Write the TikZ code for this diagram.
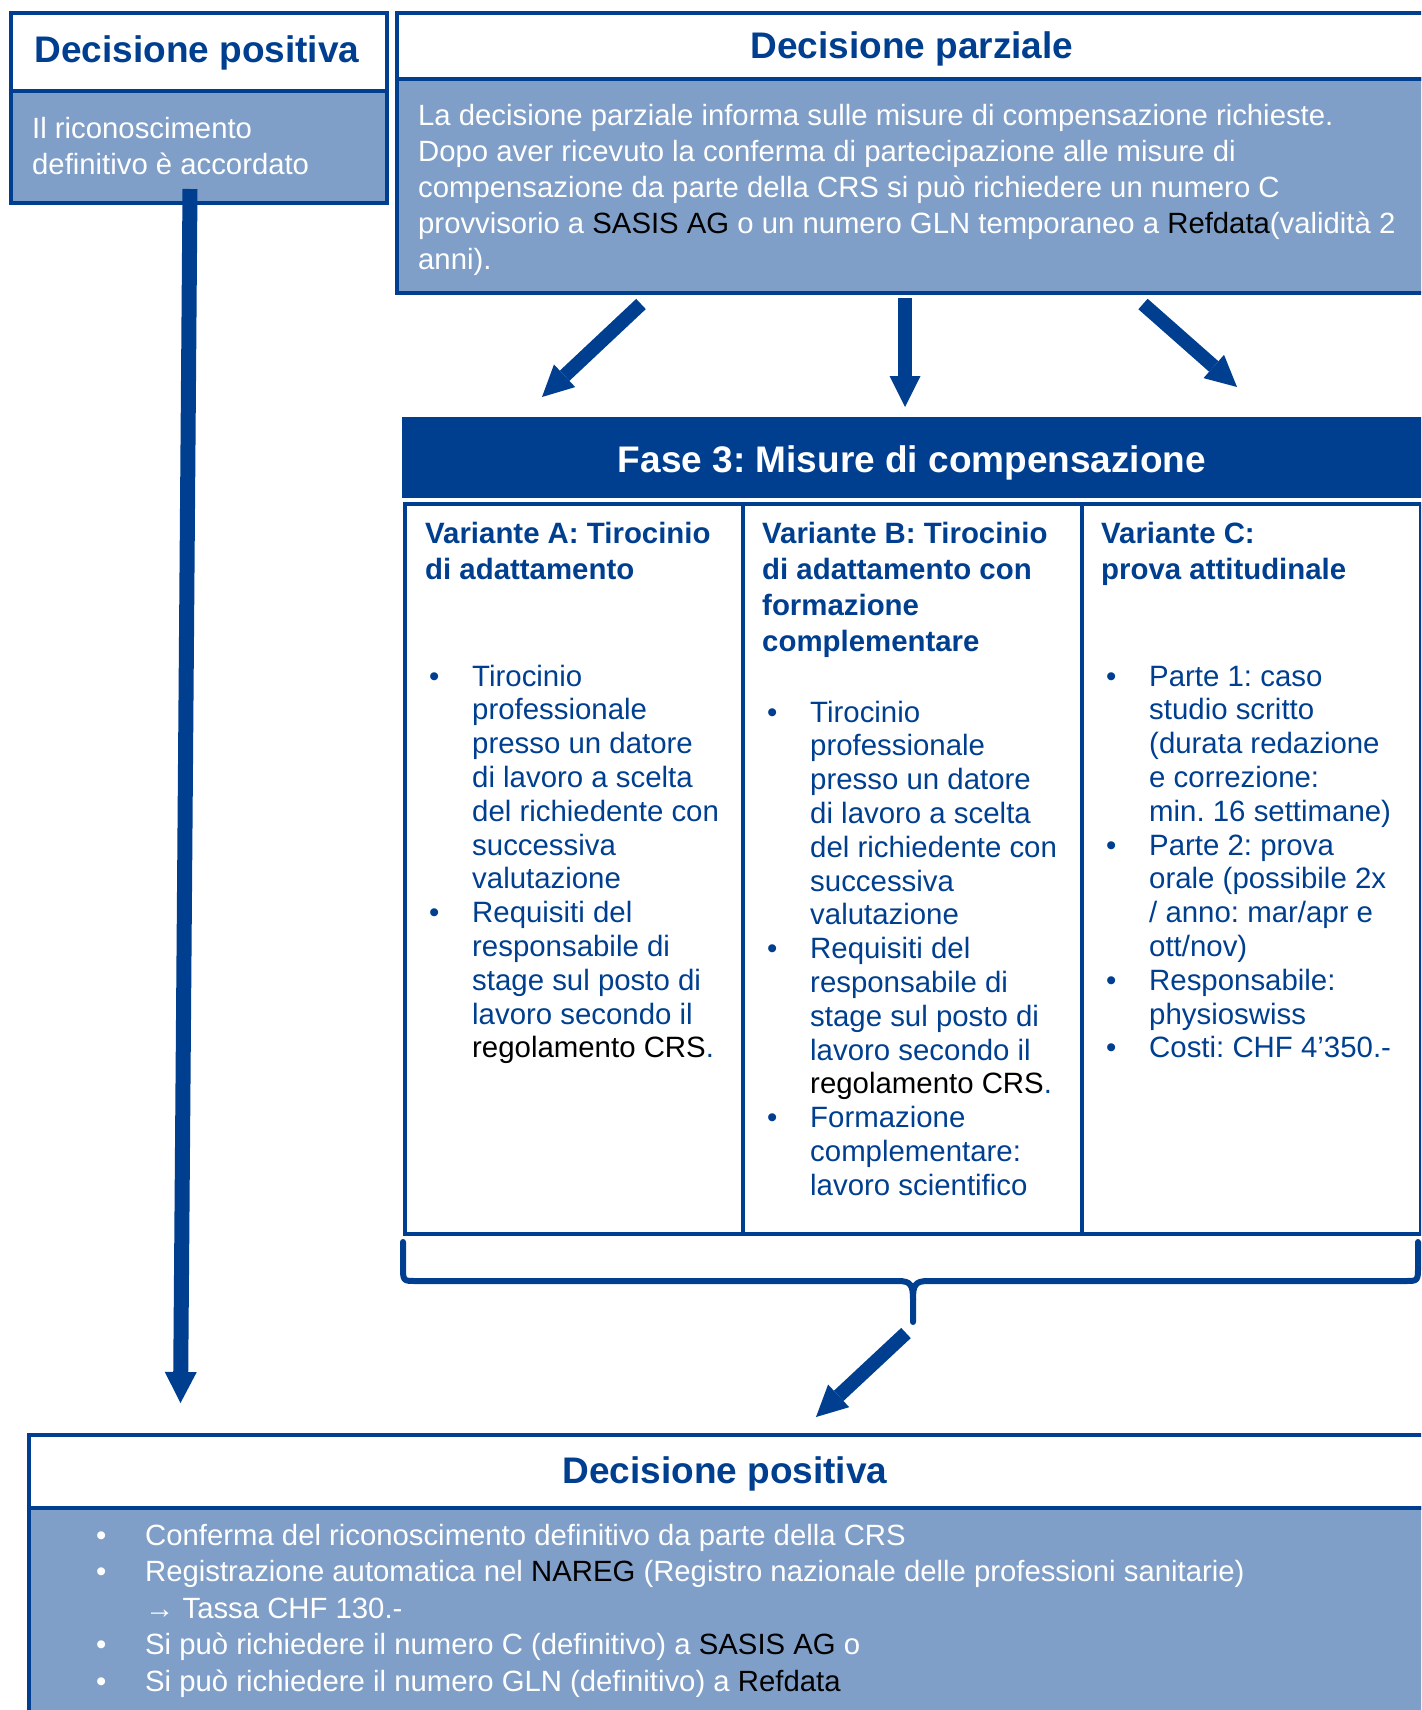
\documentclass[tikz,border=0pt]{standalone}
\usepackage{fontspec}
\setmainfont{Liberation Sans}
\usetikzlibrary{arrows.meta}
\definecolor{dblue}{RGB}{0,63,143}
\definecolor{lblue}{RGB}{127,159,200}
\newcommand\bu{\makebox[43pt][l]{•}}
\newcommand\ii{\hspace*{43pt}}
\newcommand\bub{\makebox[49pt][l]{•}}
\newcommand\iib{\hspace*{49pt}}
\newcommand\blk[1]{\textcolor{black}{#1}}
\frenchspacing
\begin{document}
\begin{tikzpicture}[x=1pt,y=-1pt,
  frame/.style={draw=dblue, line width=4pt, inner sep=0pt, anchor=north west},
  whitebox/.style={frame, fill=white},
  fillbox/.style={frame, fill=lblue},
  colbox/.style={draw=dblue, line width=3.5pt, inner sep=0pt, anchor=north west, minimum height=730pt},
  ttl/.style={font=\fontsize{37}{44}\selectfont\bfseries, text=dblue, anchor=base, inner sep=0pt},
  wtxt/.style={font=\fontsize{29.3}{36}\selectfont, text=white, anchor=base west, inner sep=0pt},
  ctxt/.style={font=\fontsize{29.4}{33.8}\selectfont, text=dblue, anchor=base west, inner sep=0pt},
  chead/.style={font=\fontsize{29.4}{36}\selectfont\bfseries, text=dblue, anchor=base west, inner sep=0pt},
  blockarrow/.style={draw=dblue, line width=14pt, -{Triangle[width=31pt,length=31pt,line width=0pt]}},
  bracepath/.style={draw=dblue, line width=6pt, line cap=round, line join=round}
]
\clip (0,0) rectangle (1421,1710);

% ---------- top left: Decisione positiva ----------
\node[whitebox, minimum width=376pt, minimum height=78pt] (posHead) at (9,11) {};
\node[fillbox, minimum width=376pt, minimum height=112pt] (posBody) at (9,89) {};
\node[ttl] (posTitle) at (197,63) {Decisione positiva};
\node[wtxt, font=\fontsize{29.3}{36.5}\selectfont] (posText) at (32,138)
  {\begin{tabular}[t]{@{}l@{}}Il riconoscimento\\definitivo è accordato\end{tabular}};

% ---------- top right: Decisione parziale ----------
\node[whitebox, minimum width=1040pt, minimum height=66pt] (parHead) at (395,11) {};
\node[fillbox, minimum width=1040pt, minimum height=214pt] (parBody) at (395,77) {};
\node[ttl] (parTitle) at (912,59) {Decisione parziale};
\node[wtxt] (parText) at (418,125)
  {\begin{tabular}[t]{@{}l@{}}La decisione parziale informa sulle misure di compensazione richieste.\\
   Dopo aver ricevuto la conferma di partecipazione alle misure di\\
   compensazione da parte della CRS si può richiedere un numero C\\
   provvisorio a \blk{SASIS AG} o un numero GLN temporaneo a \blk{Refdata}(validità 2\\
   anni).\end{tabular}};

% ---------- arrows from Decisione parziale ----------
\coordinate (a1s) at (641,304); \coordinate (a1e) at (542,397);
\coordinate (a2s) at (905,298); \coordinate (a2e) at (905,407);
\coordinate (a3s) at (1143,304); \coordinate (a3e) at (1237,387);
\draw[blockarrow] (a1s) -- (a1e);
\draw[blockarrow] (a2s) -- (a2e);
\draw[blockarrow] (a3s) -- (a3e);

% ---------- Fase 3 banner ----------
\node[fill=dblue, inner sep=0pt, anchor=north west, minimum width=1030pt, minimum height=81pt] (fase) at (402,417) {};
\node[ttl, text=white] (faseTitle) at (912,472) {Fase 3: Misure di compensazione};

% ---------- columns ----------
\node[colbox, minimum width=338pt] (colA) at (403,502) {};
\node[colbox, minimum width=339pt] (colB) at (741,502) {};
\node[colbox, minimum width=339pt] (colC) at (1080,502) {};

\node[chead] (hA) at (425,543)
  {\begin{tabular}[t]{@{}l@{}}Variante A: Tirocinio\\di adattamento\end{tabular}};
\node[chead] (hB) at (762,543)
  {\begin{tabular}[t]{@{}l@{}}Variante B: Tirocinio\\di adattamento con\\formazione\\complementare\end{tabular}};
\node[chead] (hC) at (1101,543)
  {\begin{tabular}[t]{@{}l@{}}Variante C:\\prova attitudinale\end{tabular}};

\node[ctxt] (lA) at (429,686)
  {\begin{tabular}[t]{@{}l@{}}\bu Tirocinio\\ \ii professionale\\ \ii presso un datore\\ \ii di lavoro a scelta\\
   \ii del richiedente con\\ \ii successiva\\ \ii valutazione\\ \bu Requisiti del\\ \ii responsabile di\\
   \ii stage sul posto di\\ \ii lavoro secondo il\\ \ii \blk{regolamento CRS}.\end{tabular}};
\node[ctxt] (lB) at (767,722)
  {\begin{tabular}[t]{@{}l@{}}\bu Tirocinio\\ \ii professionale\\ \ii presso un datore\\ \ii di lavoro a scelta\\
   \ii del richiedente con\\ \ii successiva\\ \ii valutazione\\ \bu Requisiti del\\ \ii responsabile di\\
   \ii stage sul posto di\\ \ii lavoro secondo il\\ \ii \blk{regolamento CRS}.\\ \bu Formazione\\
   \ii complementare:\\ \ii lavoro scientifico\end{tabular}};
\node[ctxt] (lC) at (1106,686)
  {\begin{tabular}[t]{@{}l@{}}\bu Parte 1: caso\\ \ii studio scritto\\ \ii (durata redazione\\ \ii e correzione:\\
   \ii min. 16 settimane)\\ \bu Parte 2: prova\\ \ii orale (possibile 2x\\ \ii / anno: mar/apr e\\
   \ii ott/nov)\\ \bu Responsabile:\\ \ii physioswiss\\ \bu Costi: CHF 4'350.-\end{tabular}};

% ---------- brace ----------
\coordinate (braceL) at (403,1242);
\coordinate (braceR) at (1418,1242);
\coordinate (braceTip) at (913,1322);
\draw[bracepath] (braceL) -- (403,1266) .. controls (403,1281) .. (416,1281) -- (898,1281)
  .. controls (911,1281) and (913,1285) .. (913,1300) -- (braceTip);
\draw[bracepath] (braceR) -- (1418,1266) .. controls (1418,1281) .. (1405,1281) -- (928,1281)
  .. controls (915,1281) and (913,1285) .. (913,1300);

% ---------- bottom: Decisione positiva ----------
\node[whitebox, minimum width=1396pt, minimum height=73pt] (botHead) at (27,1433) {};
\node[fillbox, minimum width=1396pt, minimum height=260pt] (botBody) at (27,1506) {};
\node[ttl] (botTitle) at (725,1483) {Decisione positiva};
\node[wtxt, font=\fontsize{29.3}{36.5}\selectfont] (botText) at (96,1545)
  {\begin{tabular}[t]{@{}l@{}}\bub Conferma del riconoscimento definitivo da parte della CRS\\
   \bub Registrazione automatica nel \blk{NAREG} (Registro nazionale delle professioni sanitarie)\\
   \iib → Tassa CHF 130.-\\
   \bub Si può richiedere il numero C (definitivo) a \blk{SASIS AG} o\\
   \bub Si può richiedere il numero GLN (definitivo) a \blk{Refdata}\end{tabular}};

% ---------- arrows to bottom box ----------
\coordinate (a4s) at (906,1333); \coordinate (a4e) at (816,1417);
\draw[blockarrow] (a4s) -- (a4e);
\coordinate (lstart) at (190,189); \coordinate (lend) at (180.5,1403);
\draw[blockarrow, line width=15pt, -{Triangle[width=32pt,length=31pt,line width=0pt]}] (lstart) -- (lend);
\end{tikzpicture}
\end{document}
